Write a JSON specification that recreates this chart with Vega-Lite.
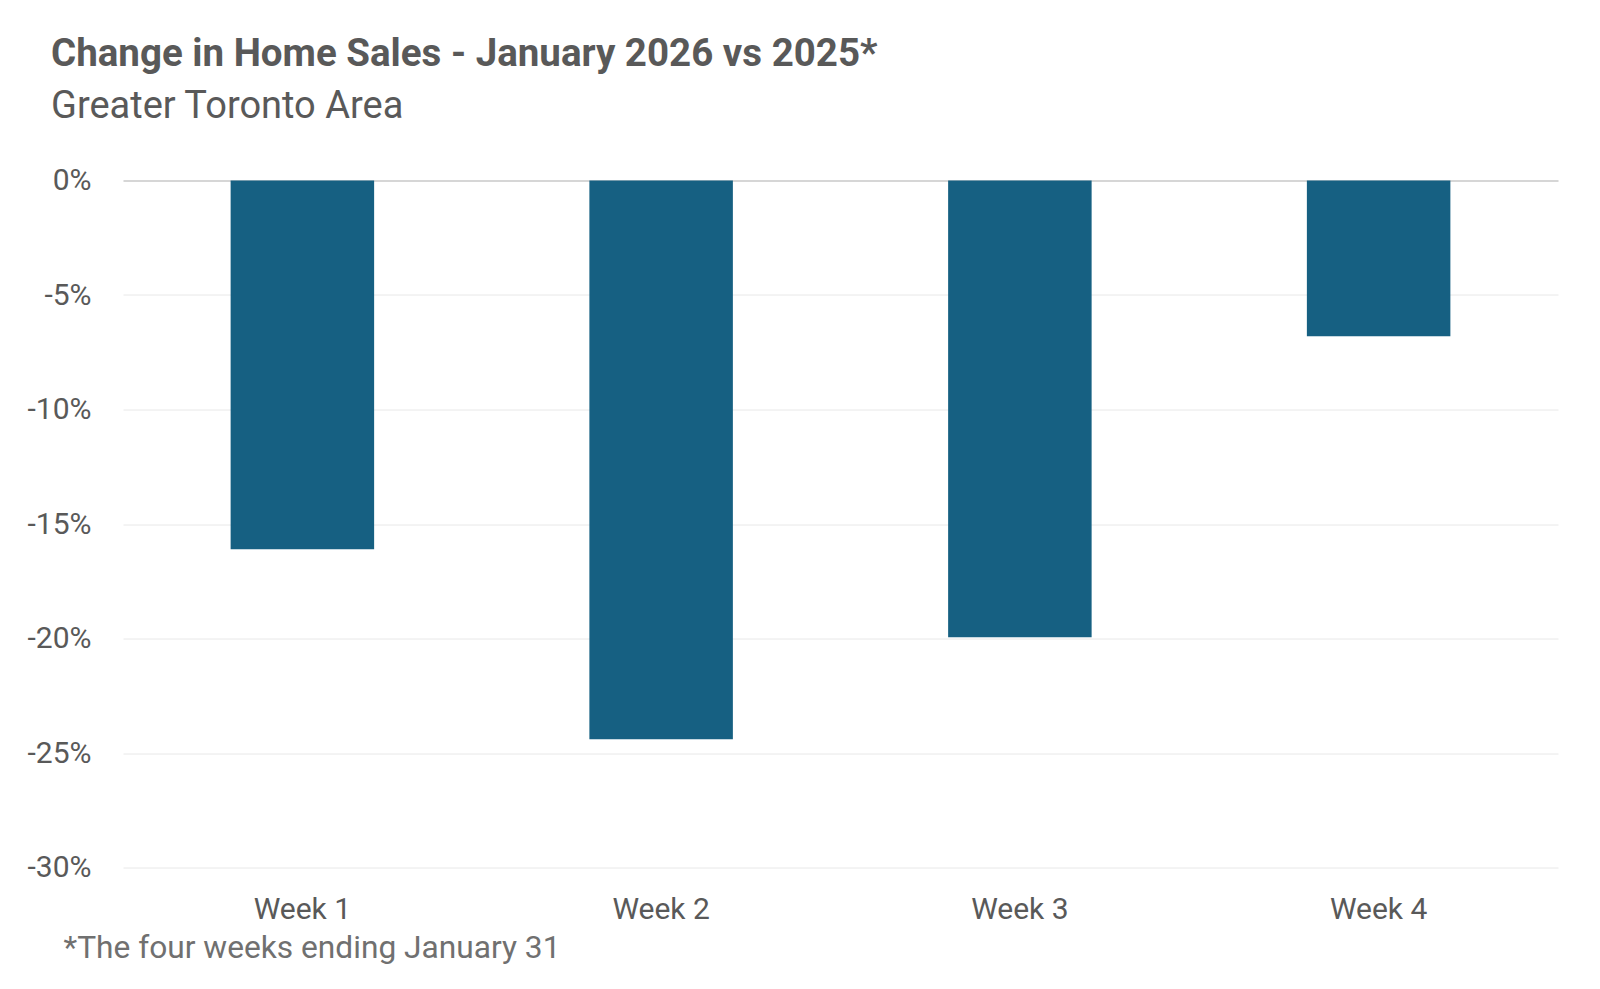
{
  "$schema": "https://vega.github.io/schema/vega-lite/v6.json",
  "autosize": {"type": "none"},
  "width": 1435,
  "height": 687,
  "padding": {"left": 123, "top": 180.5, "right": 42, "bottom": 121.5},
  "background": "white",
  "title": {
    "text": "Change in Home Sales - January 2026 vs 2025*",
    "subtitle": "Greater Toronto Area",
    "anchor": "start",
    "frame": "group",
    "dx": -72,
    "offset": 39,
    "font": "Roboto",
    "fontSize": 38.5,
    "fontWeight": "bold",
    "color": "#595959",
    "subtitleFont": "Roboto",
    "subtitleFontSize": 38,
    "subtitleColor": "#595959",
    "subtitlePadding": 13
  },
  "data": {
    "values": [
      {"week": "Week 1", "change": -16.1},
      {"week": "Week 2", "change": -24.4},
      {"week": "Week 3", "change": -19.95},
      {"week": "Week 4", "change": -6.8}
    ]
  },
  "mark": {"type": "bar", "color": "#166082"},
  "encoding": {
    "x": {
      "field": "week",
      "type": "nominal",
      "sort": null,
      "scale": {"paddingInner": 0.6, "paddingOuter": 0.3},
      "axis": {
        "title": "*The four weeks ending January 31",
        "titleFont": "Roboto",
        "titleFontSize": 31.7,
        "titleFontWeight": "normal",
        "titleColor": "#707070",
        "titleAnchor": "start",
        "titleAlign": "left",
        "titleBaseline": "alphabetic",
        "titleX": -60,
        "titleY": 90,
        "labelAngle": 0,
        "labelFont": "Roboto",
        "labelFontSize": 30,
        "labelColor": "#595959",
        "labelBaseline": "alphabetic",
        "labelPadding": 51,
        "ticks": false,
        "tickSize": 0,
        "domain": false,
        "grid": false
      }
    },
    "y": {
      "field": "change",
      "type": "quantitative",
      "scale": {"domain": [-30, 0], "nice": false, "zero": true},
      "axis": {
        "title": null,
        "values": [0, -5, -10, -15, -20, -25, -30],
        "labelExpr": "datum.value + '%'",
        "labelFont": "Roboto",
        "labelFontSize": 30,
        "labelColor": "#595959",
        "labelPadding": 32,
        "ticks": false,
        "tickSize": 0,
        "domain": false,
        "grid": true,
        "gridColor": {"condition": {"test": "datum.value === 0", "value": "#d6d6d6"}, "value": "#e8e8e8"},
        "gridWidth": {"condition": {"test": "datum.value === 0", "value": 2}, "value": 1}
      }
    }
  },
  "config": {"view": {"stroke": null}}
}
